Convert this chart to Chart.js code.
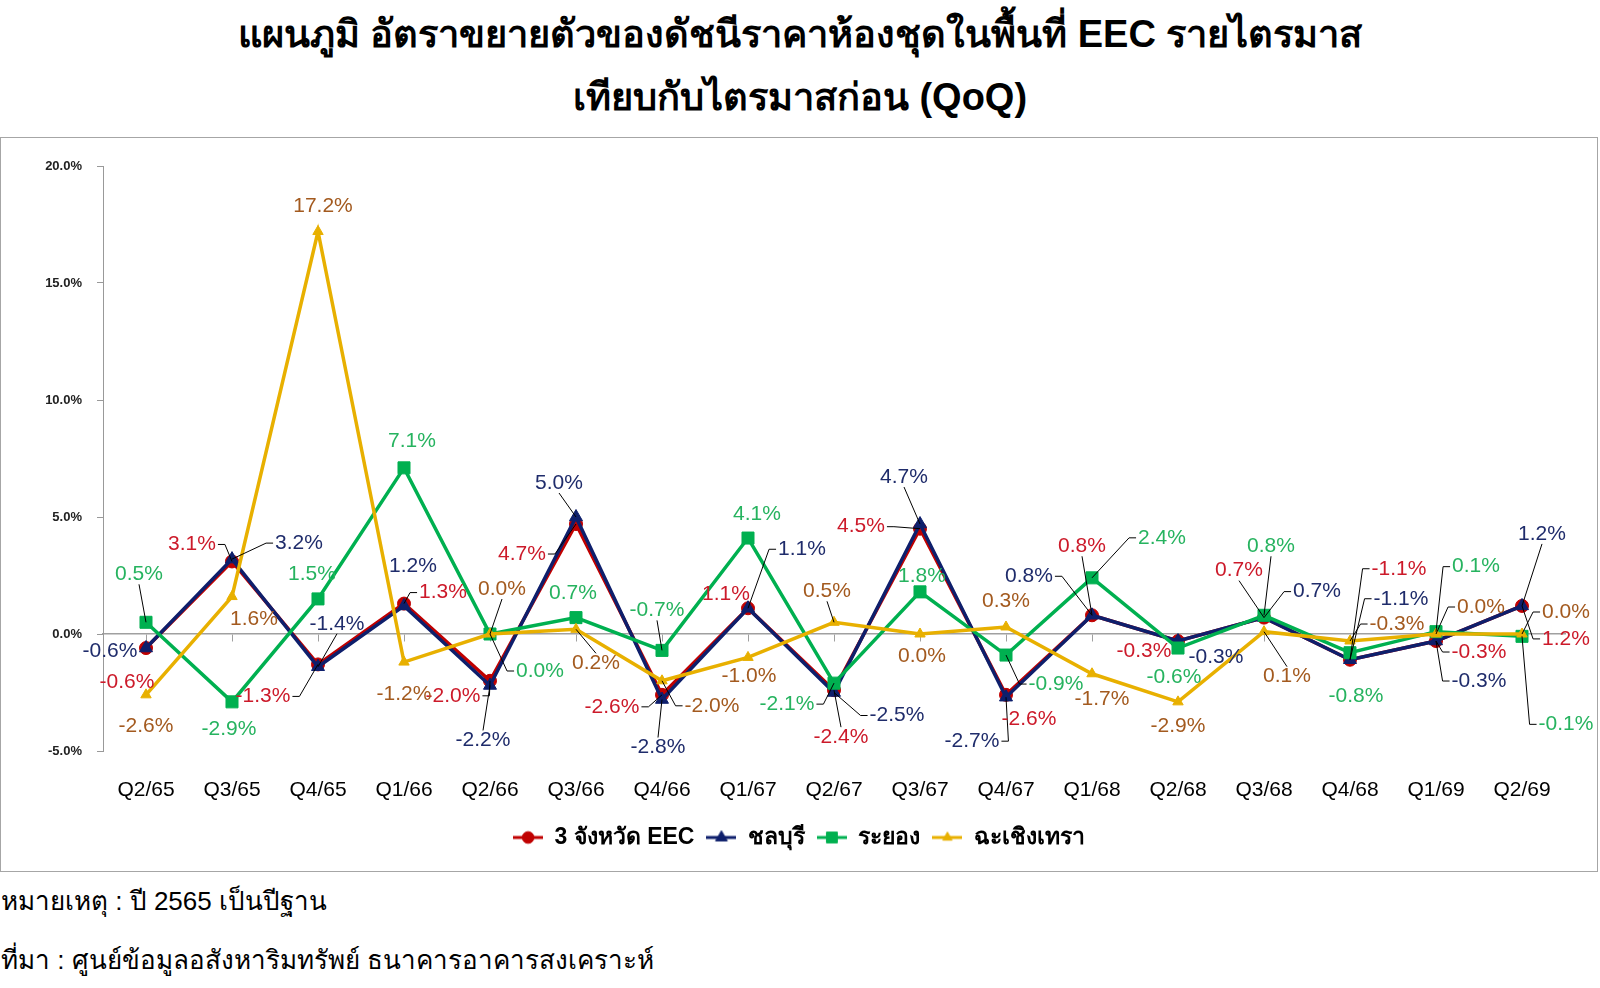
<!DOCTYPE html>
<html lang="th">
<head>
<meta charset="utf-8">
<title>อัตราขยายตัวของดัชนีราคาห้องชุด EEC (QoQ)</title>
<script src="https://cdn.jsdelivr.net/npm/chart.js@4.4.1/dist/chart.umd.min.js"></script>
<style>
  html, body { margin: 0; padding: 0; background: #fff; }
  body { width: 1600px; height: 988px; position: relative; overflow: hidden;
         font-family: "Liberation Sans", Arial, sans-serif; color: #000; }
  .title { position: absolute; left: 0; width: 1600px; text-align: center;
           font-weight: bold; font-size: 38px; line-height: 1; }
  #t1 { top: 15px; }
  #t2 { top: 78px; }
  #box { position: absolute; left: 0; top: 137px; width: 1596px; height: 733px;
         border: 1px solid #a6a6a6; }
  .note { position: absolute; left: 1px; font-size: 26px; line-height: 1; font-weight: 300; }
</style>
</head>
<body>
<div class="title" id="t1">แผนภูมิ อัตราขยายตัวของดัชนีราคาห้องชุดในพื้นที่ EEC รายไตรมาส</div>
<div class="title" id="t2">เทียบกับไตรมาสก่อน (QoQ)</div>
<div id="box"><canvas id="chart"></canvas></div>
<div class="note" style="top:888px">หมายเหตุ : ปี 2565 เป็นปีฐาน</div>
<div class="note" style="top:947px">ที่มา : ศูนย์ข้อมูลอสังหาริมทรัพย์ ธนาคารอาคารสงเคราะห์</div>

<script>
const quarters = ['Q2/65', 'Q3/65', 'Q4/65', 'Q1/66', 'Q2/66', 'Q3/66', 'Q4/66', 'Q1/67', 'Q2/67',
                  'Q3/67', 'Q4/67', 'Q1/68', 'Q2/68', 'Q3/68', 'Q4/68', 'Q1/69', 'Q2/69'];

// % change QoQ
const eec          = [-0.6, 3.1, -1.3, 1.3, -2.0, 4.7, -2.6, 1.1, -2.4, 4.5, -2.6, 0.8, -0.3, 0.7, -1.1, -0.3, 1.2];
const chonburi     = [-0.6, 3.2, -1.4, 1.2, -2.2, 5.0, -2.8, 1.1, -2.5, 4.7, -2.7, 0.8, -0.3, 0.7, -1.1, -0.3, 1.2];
const rayong       = [0.5, -2.9, 1.5, 7.1, 0.0, 0.7, -0.7, 4.1, -2.1, 1.8, -0.9, 2.4, -0.6, 0.8, -0.8, 0.1, -0.1];
const chachoengsao = [-2.6, 1.6, 17.2, -1.2, 0.0, 0.2, -2.0, -1.0, 0.5, 0.0, 0.3, -1.7, -2.9, 0.1, -0.3, 0.0, 0.0];

const seriesNames = ['3 จังหวัด EEC', 'ชลบุรี', 'ระยอง', 'ฉะเชิงเทรา'];
const yMin = -5, yMax = 20, yStep = 5;

const lineColors  = ['#c00000', '#0e1f6c', '#00b050', '#e8b000'];
const labelColors = ['#cc1a2a', '#1f2c6b', '#26b35f', '#a35a1f'];

// where each data label sits relative to its point: [dx, dy, leader line?]
const labelOffsets = [
  [[-19, 34, 0], [-40, -17, 1], [-55, 32, 1], [39, -11, 1], [-37, 15, 1], [-54, 30, 1], [-50, 12, 1],
   [-22, -14, 0], [7, 47, 1], [-59, -2, 1], [23, 24, 0], [-10, -69, 1], [-34, 10, 0], [-25, -47, 1],
   [49, -91, 1], [43, 11, 1], [44, 33, 1]],
  [[-36, 3, 0], [67, -16, 1], [19, -43, 1], [9, -40, 0], [-7, 55, 1], [-17, -34, 1], [-4, 48, 1],
   [54, -59, 1], [63, 23, 1], [-16, -47, 1], [-34, 44, 1], [-63, -39, 1], [38, 16, 0], [53, -26, 1],
   [51, -61, 1], [43, 40, 1], [20, -72, 1]],
  [[-7, -48, 1], [-3, 27, 0], [-6, -25, 0], [8, -27, 0], [50, 37, 1], [-3, -24, 0], [-5, -40, 1],
   [9, -24, 0], [-47, 21, 1], [2, -16, 0], [50, 29, 1], [70, -40, 1], [-4, 29, 0], [7, -69, 1],
   [6, 43, 0], [40, -65, 1], [44, 88, 1]],
  [[0, 31, 0], [22, 23, 0], [5, -25, 0], [0, 32, 0], [12, -45, 1], [20, 34, 1], [50, 25, 1],
   [1, 19, 0], [-7, -31, 1], [2, 22, 0], [0, -26, 0], [10, 25, 0], [0, 24, 0], [23, 45, 1],
   [47, -17, 1], [45, -27, 1], [44, -22, 1]]
];

const markers = [
  { style: 'circle', radius: 6.5 },
  { style: 'triangle', radius: 7.5 },
  { style: 'rect', radius: 8.5 },
  { style: 'triangle', radius: 6 }
];

// small line + marker picture for the legend
function legendSwatch(i) {
  const c = document.createElement('canvas');
  c.width = 30; c.height = 18;
  const g = c.getContext('2d');
  g.strokeStyle = lineColors[i];
  g.fillStyle = lineColors[i];
  g.lineWidth = 3;
  g.beginPath(); g.moveTo(0, 9); g.lineTo(30, 9); g.stroke();
  g.lineWidth = 1;
  Chart.helpers.drawPoint(g, { pointStyle: markers[i].style, radius: markers[i].radius * 0.9, borderWidth: 1 }, 15, 9);
  return c;
}
const swatches = [0, 1, 2, 3].map(legendSwatch);

const pointLabels = {
  id: 'pointLabels',
  afterDatasetsDraw(chart) {
    const ctx = chart.ctx;
    ctx.save();
    ctx.font = '21px "Liberation Sans", Arial, sans-serif';
    ctx.textAlign = 'center';
    ctx.textBaseline = 'middle';
    const items = [];
    chart.data.datasets.forEach((ds, di) => {
      chart.getDatasetMeta(di).data.forEach((pt, i) => {
        const [dx, dy, lead] = labelOffsets[di][i];
        const text = ds.data[i].toFixed(1) + '%';
        items.push({ pt, dx, dy, lead, text, color: labelColors[di], x: pt.x + dx, y: pt.y + dy });
      });
    });
    // leader lines first
    ctx.strokeStyle = '#000';
    ctx.lineWidth = 1;
    items.filter(it => it.lead).forEach(it => {
      const hw = ctx.measureText(it.text).width / 2 + 2;
      ctx.beginPath();
      if (Math.abs(it.dx) > hw) {
        const side = it.dx > 0 ? -1 : 1;
        const sx = it.x + side * hw;
        ctx.moveTo(sx, it.y);
        ctx.lineTo(sx + side * 7, it.y);
      } else {
        ctx.moveTo(it.x, it.y + (it.dy > 0 ? -10 : 10));
      }
      ctx.lineTo(it.pt.x, it.pt.y);
      ctx.stroke();
    });
    items.forEach(it => {
      ctx.fillStyle = it.color;
      ctx.fillText(it.text, it.x, it.y);
    });
    ctx.restore();
  }
};

// centre the legend on the whole box, as in the original
const legendPlace = {
  id: 'legendPlace',
  afterLayout(chart) {
    const lg = chart.legend;
    const shift = chart.width / 2 - (lg.left + lg.right) / 2;
    lg.left += shift;
    lg.right += shift;
  }
};

const datasets = [eec, chonburi, rayong, chachoengsao].map((vals, i) => ({
  label: seriesNames[i],
  data: vals,
  borderColor: lineColors[i],
  backgroundColor: lineColors[i],
  pointBackgroundColor: lineColors[i],
  pointBorderColor: lineColors[i],
  pointStyle: markers[i].style,
  pointRadius: markers[i].radius,
  pointBorderWidth: 1,
  borderWidth: 3.5,
  tension: 0,
  fill: false,
  order: 4 - i
}));

new Chart(document.getElementById('chart'), {
  type: 'line',
  data: { labels: quarters, datasets },
  options: {
    responsive: true,
    maintainAspectRatio: false,
    animation: false,
    layout: { padding: { top: 28, right: 32, bottom: 12, left: 0 } },
    plugins: {
      title: { display: false },
      tooltip: { enabled: false },
      legend: {
        position: 'bottom',
        labels: {
          usePointStyle: true,
          pointStyleWidth: 30,
          padding: 12,
          color: '#000',
          font: { family: '"Liberation Sans", Arial, sans-serif', size: 23, weight: 'bold' },
          generateLabels(chart) {
            const items = Chart.defaults.plugins.legend.labels.generateLabels(chart);
            items.forEach(it => { it.pointStyle = swatches[it.datasetIndex]; });
            return items;
          },
          sort: (a, b) => a.datasetIndex - b.datasetIndex
        }
      }
    },
    scales: {
      x: {
        type: 'category',
        offset: true,
        grid: { display: false, drawTicks: false },
        border: { display: false },
        ticks: { padding: 27, color: '#000', maxRotation: 0,
                 font: { family: '"Liberation Sans", Arial, sans-serif', size: 21 } },
        afterFit(scale) { scale.height = 63; }
      },
      // zero line with its tick marks
      x2: {
        type: 'category',
        position: { y: 0 },
        offset: true,
        grid: { drawOnChartArea: false, offset: false, tickLength: 7, color: '#a0a0a0', tickColor: '#a0a0a0' },
        border: { color: '#a0a0a0', width: 1.5 },
        ticks: { display: false }
      },
      y: {
        min: yMin,
        max: yMax,
        grid: { drawOnChartArea: false, tickLength: 6, tickColor: '#999' },
        border: { color: '#999', dash: [3, 3], width: 1 },
        ticks: {
          stepSize: yStep,
          padding: 15,
          color: '#222',
          font: { family: '"Liberation Sans", Arial, sans-serif', size: 13, weight: 'bold' },
          callback: v => v.toFixed(1) + '%'
        },
        afterFit(scale) { scale.width = 102; }
      }
    }
  },
  plugins: [pointLabels, legendPlace]
});
</script>
</body>
</html>
